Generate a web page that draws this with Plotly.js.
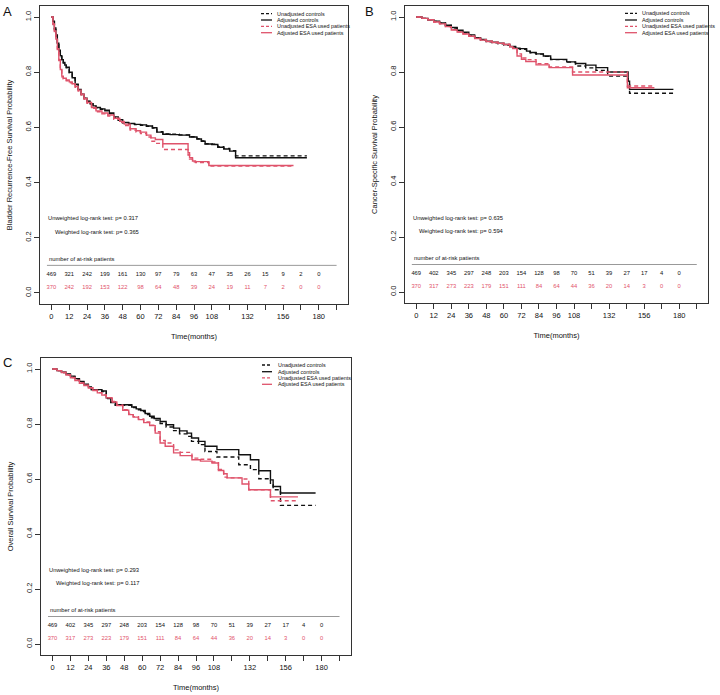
<!DOCTYPE html>
<html><head><meta charset="utf-8">
<script src="https://cdn.plot.ly/plotly-3.0.1.min.js"></script>
<style>body{margin:0;background:#fff}#chart{width:720px;height:695px}</style>
</head><body><div id="chart"></div>
<script>
// ---------------- data ----------------
const seriesNames = ["Unadjusted controls", "Adjusted controls", "Unadjusted ESA used patients", "Adjusted ESA used patients"];
const riskTimes = [0,12,24,36,48,60,72,84,96,108,120,132,144,156,168,180];
const xTickVals = [0,12,24,36,48,60,72,84,96,108,120,132,144,156,168,180,192];
const xTickText = ["0","12","24","36","48","60","72","84","96","108","","132","","156","","180",""];
const yTickVals = [0,0.2,0.4,0.6,0.8,1.0];

// Panel A: bladder recurrence-free survival
const A_ctrl_t = [0,1,2,3,4,5,6,7,8,9,10,12,14,16,18,20,22,24,26,28,30,33,36,39,42,45,48,52,56,60,64,68,71,75,80,86,93,98,101,103.5,108,112,116,120,124,172];
const A_ctrlAdj_s = [1,0.985,0.96,0.935,0.905,0.88,0.86,0.845,0.835,0.826,0.818,0.8,0.78,0.757,0.738,0.72,0.706,0.695,0.686,0.678,0.672,0.667,0.662,0.652,0.638,0.628,0.618,0.614,0.611,0.609,0.605,0.599,0.583,0.575,0.574,0.572,0.565,0.558,0.55,0.54,0.538,0.528,0.522,0.514,0.49,0.49];
const A_ctrlUnadj_s = [1,0.983,0.955,0.93,0.9,0.875,0.856,0.842,0.833,0.824,0.816,0.798,0.778,0.755,0.737,0.719,0.705,0.694,0.685,0.677,0.671,0.666,0.66,0.65,0.636,0.626,0.617,0.613,0.61,0.608,0.604,0.598,0.584,0.576,0.575,0.573,0.566,0.559,0.551,0.541,0.539,0.53,0.524,0.516,0.497,0.497];
const A_esa_t = [0,1,2,3,4,5,6,7,8,10,12,14,16,18,20,22,24,27,30,34,38,42,46,49,53,57,60,64,67,70,75,92,93,95,97,106,163];
const A_esaAdj_s = [1,0.975,0.95,0.92,0.885,0.845,0.81,0.786,0.778,0.772,0.765,0.758,0.748,0.735,0.72,0.705,0.69,0.672,0.66,0.652,0.645,0.633,0.622,0.612,0.595,0.588,0.583,0.572,0.562,0.556,0.541,0.508,0.49,0.478,0.476,0.462,0.462];
const A_esaUnadj_s = [1,0.973,0.947,0.917,0.882,0.842,0.807,0.783,0.775,0.769,0.762,0.755,0.745,0.732,0.717,0.702,0.687,0.669,0.657,0.649,0.641,0.629,0.618,0.607,0.59,0.583,0.578,0.565,0.55,0.542,0.52,0.5,0.485,0.475,0.473,0.46,0.46];
const A_riskCtrl = [469,321,242,199,161,130,97,79,63,47,35,26,15,9,2,0];
const A_riskEsa = [370,242,192,153,122,98,64,48,39,24,19,11,7,2,0,0];

// Panel B: cancer-specific survival
const B_ctrl_t = [0,4,8,12,16,20,24,28,32,36,40,44,48,52,56,60,64,68,71,75.5,78,82,87,92,103,109,116,123,131,145,146,176];
const B_ctrlAdj_s = [1,0.995,0.99,0.985,0.978,0.97,0.962,0.952,0.945,0.935,0.925,0.918,0.912,0.908,0.905,0.9,0.893,0.887,0.885,0.876,0.871,0.866,0.858,0.846,0.837,0.831,0.825,0.816,0.8,0.767,0.737,0.737];
const B_ctrlUnadj_s = [1,0.995,0.99,0.984,0.977,0.969,0.96,0.95,0.943,0.933,0.923,0.916,0.91,0.906,0.903,0.898,0.891,0.885,0.883,0.875,0.87,0.865,0.857,0.845,0.836,0.822,0.815,0.806,0.785,0.755,0.723,0.723];
const B_esa_t = [0,4,8,12,16,20,24,28,32,36,40,44,48,52,56,60,64,66,69,72,75,82,91,107,144.5,163];
const B_esaAdj_s = [1,0.995,0.99,0.982,0.975,0.965,0.953,0.945,0.938,0.93,0.922,0.916,0.911,0.907,0.904,0.9,0.892,0.885,0.858,0.846,0.838,0.826,0.816,0.789,0.743,0.743];
const B_esaUnadj_s = [1,0.995,0.99,0.982,0.975,0.965,0.954,0.946,0.939,0.931,0.923,0.917,0.912,0.908,0.905,0.901,0.893,0.887,0.866,0.851,0.845,0.83,0.818,0.8,0.749,0.749];
const B_riskCtrl = [469,402,345,297,248,203,154,128,98,70,51,39,27,17,4,0];
const B_riskEsa = [370,317,273,223,179,151,111,84,64,44,36,20,14,3,0,0];

// Panel C: overall survival
const C_ctrl_t = [0,3,6,9,12,15,18,21,24,26,33,36,39,42,53,56,59,62,65,68,72,76,81,85,90,93,97.7,102,110,124.6,132.4,138,145.8,147.6,152.5,176];
const C_ctrlAdj_s = [1,0.994,0.988,0.982,0.974,0.965,0.955,0.945,0.935,0.925,0.92,0.895,0.88,0.87,0.862,0.855,0.849,0.838,0.828,0.82,0.809,0.797,0.785,0.775,0.767,0.749,0.737,0.719,0.707,0.688,0.67,0.63,0.597,0.573,0.549,0.549];
const C_ctrlUnadj_s = [1,0.994,0.987,0.98,0.972,0.963,0.953,0.943,0.933,0.923,0.918,0.893,0.878,0.868,0.86,0.852,0.845,0.834,0.823,0.814,0.802,0.789,0.776,0.764,0.755,0.737,0.725,0.7,0.68,0.652,0.634,0.601,0.579,0.561,0.504,0.504];
const C_esa_t = [0,3,6,9,12,15,18,21,24,27,30,33,36,40,43,47,51,54,57.5,61,65,68.7,72,75.4,81,85.4,93.3,99,106.7,111,114.5,116.8,126.8,131.3,145.8,164.2];
const C_esaAdj_s = [1,0.994,0.987,0.978,0.968,0.958,0.948,0.94,0.931,0.922,0.913,0.905,0.895,0.88,0.867,0.85,0.834,0.825,0.816,0.805,0.794,0.767,0.731,0.719,0.695,0.685,0.67,0.665,0.658,0.631,0.619,0.604,0.582,0.561,0.535,0.535];
const C_esaUnadj_s = [1,0.994,0.987,0.979,0.969,0.959,0.949,0.941,0.932,0.923,0.914,0.906,0.896,0.882,0.869,0.852,0.836,0.827,0.818,0.807,0.796,0.772,0.74,0.731,0.706,0.697,0.676,0.672,0.662,0.635,0.607,0.604,0.6,0.561,0.521,0.521];
const C_riskCtrl = [469,402,345,297,248,203,154,128,98,70,51,39,27,17,4,0];
const C_riskEsa = [370,317,273,223,179,151,111,84,64,44,36,20,14,3,0,0];

const panelLetters = ["A","B","C"];
const yTitles = ["Bladder Recurrence-Free Survival Probability","Cancer-Specific Survival Probability","Overall Survival Probability"];
const pUnweighted = ["0.317","0.635","0.293"];
const pWeighted = ["0.365","0.594","0.117"];

// ---------------- styling ----------------
const FONT = "Liberation Sans, Arial, Helvetica, sans-serif";
const BLACK = "#111111";
const RED = "#DF536B";
const DASH = "4px,3px";
const W = 720, H = 695;

const panels = [
  {ax:"", ctrlT:A_ctrl_t, ctrlAdj:A_ctrlAdj_s, ctrlUn:A_ctrlUnadj_s, esaT:A_esa_t, esaAdj:A_esaAdj_s, esaUn:A_esaUnadj_s, rc:A_riskCtrl, re:A_riskEsa,
   px:[40,348], py:[6,304], leg:{x0:261,x1:272,tx:275,ys:[13.7,20,26.3,32.7]}, letter:[7,11]},
  {ax:"2", ctrlT:B_ctrl_t, ctrlAdj:B_ctrlAdj_s, ctrlUn:B_ctrlUnadj_s, esaT:B_esa_t, esaAdj:B_esaAdj_s, esaUn:B_esaUnadj_s, rc:B_riskCtrl, re:B_riskEsa,
   px:[405,708], py:[6,303], leg:{x0:625,x1:637,tx:640,ys:[13.3,20,26.3,32.7]}, letter:[370,11]},
  {ax:"3", ctrlT:C_ctrl_t, ctrlAdj:C_ctrlAdj_s, ctrlUn:C_ctrlUnadj_s, esaT:C_esa_t, esaAdj:C_esaAdj_s, esaUn:C_esaUnadj_s, rc:C_riskCtrl, re:C_riskEsa,
   px:[41,351], py:[358,655], leg:{x0:262,x1:272,tx:275.5,ys:[365,371.7,377.8,384.3]}, letter:[7,362]}
];

const data = [];
const layout = {
  width: W, height: H, margin:{l:0,r:0,t:0,b:0},
  paper_bgcolor:"#fff", plot_bgcolor:"#fff", showlegend:false,
  font:{family:FONT, color:BLACK},
  annotations:[], shapes:[]
};

const px2x = v => v / W;
const px2y = v => 1 - v / H;

panels.forEach((p, i) => {
  const xa = "x" + p.ax, ya = "y" + p.ax;
  const curves = [
    {t:p.ctrlT, s:p.ctrlUn, c:BLACK, d:DASH, n:seriesNames[0]},
    {t:p.ctrlT, s:p.ctrlAdj, c:BLACK, d:"solid", n:seriesNames[1]},
    {t:p.esaT, s:p.esaUn, c:RED, d:DASH, n:seriesNames[2]},
    {t:p.esaT, s:p.esaAdj, c:RED, d:"solid", n:seriesNames[3]}
  ];
  curves.forEach(cv => data.push({
    type:"scatter", mode:"lines", x:cv.t, y:cv.s, name:cv.n, xaxis:xa, yaxis:ya,
    line:{shape:"hv", color:cv.c, dash:cv.d, width:1.4}, hoverinfo:"skip"
  }));
  // at-risk numbers
  data.push({type:"scatter", mode:"text", x:riskTimes, y:riskTimes.map(()=>0.068), text:p.rc.map(String),
    xaxis:xa, yaxis:ya, textfont:{size:5.8, color:BLACK, family:FONT}, hoverinfo:"skip"});
  data.push({type:"scatter", mode:"text", x:riskTimes, y:riskTimes.map(()=>0.02), text:p.re.map(String),
    xaxis:xa, yaxis:ya, textfont:{size:5.8, color:RED, family:FONT}, hoverinfo:"skip"});

  const axX = {
    domain:[px2x(p.px[0]), px2x(p.px[1])], range:[-7.68,199.68], anchor:ya,
    tickmode:"array", tickvals:xTickVals, ticktext:xTickText,
    ticks:"outside", ticklen:5, tickwidth:1, tickcolor:"#333",
    showline:true, mirror:true, linecolor:"#333", linewidth:1,
    showgrid:false, zeroline:false, tickfont:{size:7.5, family:FONT, color:BLACK},
    title:{text:"Time(months)", font:{size:7.5, family:FONT, color:BLACK}, standoff:13}
  };
  const axY = {
    domain:[px2y(p.py[1]), px2y(p.py[0])], range:[-0.04,1.04], anchor:xa,
    tickmode:"array", tickvals:yTickVals, tickformat:".1f", tickangle:-90,
    ticks:"outside", ticklen:5, tickwidth:1, tickcolor:"#333",
    showline:true, mirror:true, linecolor:"#333", linewidth:1,
    showgrid:false, zeroline:false, tickfont:{size:7.5, family:FONT, color:BLACK},
    title:{text:yTitles[i], font:{size:7.5, family:FONT, color:BLACK}, standoff:10}
  };
  layout["xaxis"+p.ax] = axX;
  layout["yaxis"+p.ax] = axY;

  // separator line in at-risk table
  layout.shapes.push({type:"line", xref:xa, yref:ya, x0:-3, x1:192, y0:0.1, y1:0.1, line:{color:"#999", width:1}});
  layout.annotations.push({xref:xa, yref:ya, x:-3, y:0.122, xanchor:"left", yanchor:"middle", showarrow:false,
    text:"number of at-risk patients", font:{size:5.8, color:BLACK}});
  layout.annotations.push({xref:xa, yref:ya, x:-3.8, y:0.27, xanchor:"left", yanchor:"middle", showarrow:false,
    text:"Unweighted log-rank test: p= " + pUnweighted[i], font:{size:5.8, color:BLACK}});
  layout.annotations.push({xref:xa, yref:ya, x:0.8, y:0.221, xanchor:"left", yanchor:"middle", showarrow:false,
    text:"Weighted log-rank test: p= " + pWeighted[i], font:{size:5.8, color:BLACK}});

  // legend
  curves.forEach((cv, k) => {
    const yy = px2y(p.leg.ys[k]);
    layout.shapes.push({type:"line", xref:"paper", yref:"paper", x0:px2x(p.leg.x0), x1:px2x(p.leg.x1), y0:yy, y1:yy,
      line:{color:cv.c, width:1.3, dash:cv.d==="solid"?"solid":"3px,2px"}});
    layout.annotations.push({xref:"paper", yref:"paper", x:px2x(p.leg.tx), y:yy, xanchor:"left", yanchor:"middle",
      showarrow:false, text:cv.n, font:{size:5.4, color:BLACK}});
  });

  // panel letter
  layout.annotations.push({xref:"paper", yref:"paper", x:px2x(p.letter[0]), y:px2y(p.letter[1]), xanchor:"center", yanchor:"middle",
    showarrow:false, text:panelLetters[i], font:{size:13, color:BLACK}});
});

Plotly.newPlot("chart", data, layout, {staticPlot:true, displayModeBar:false});
</script>
</body></html>
